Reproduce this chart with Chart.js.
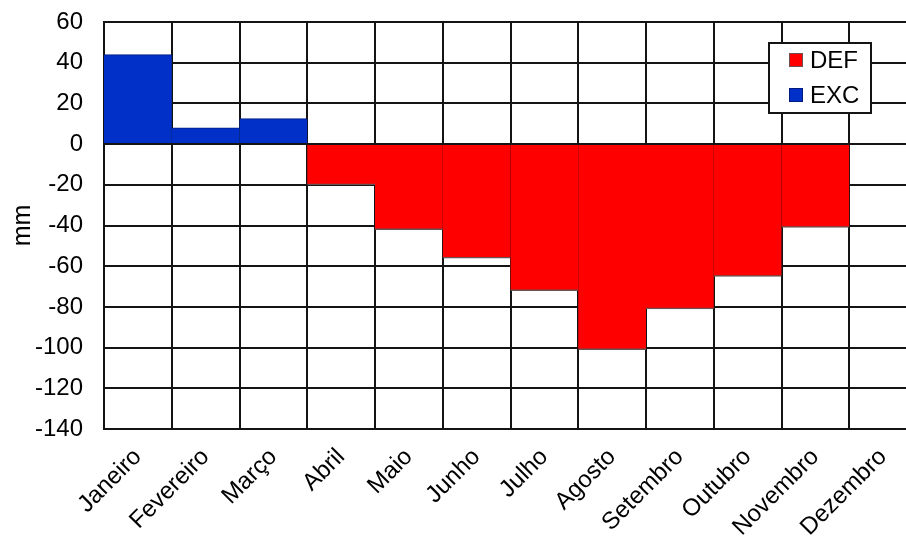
<!DOCTYPE html>
<html>
<head>
<meta charset="utf-8">
<script src="https://cdn.jsdelivr.net/npm/chart.js@4"></script>
<style>
  html, body { margin: 0; padding: 0; background: #fff; overflow: hidden; }
  #wrap { position: relative; width: 940px; height: 544px; }
</style>
</head>
<body>
<div id="wrap"><canvas id="balanco"></canvas></div>
<script>
// Balanço hídrico mensal: excedente (EXC) e deficiência (DEF), em mm
const meses = ['Janeiro', 'Fevereiro', 'Março', 'Abril', 'Maio', 'Junho',
               'Julho', 'Agosto', 'Setembro', 'Outubro', 'Novembro', 'Dezembro'];
const excedente = [44, 8, 12.5, null, null, null, null, null, null, null, null, null];
const deficiencia = [null, null, null, -20, -42, -56, -72, -101, -81, -65, -41, null];
const eixoY = { min: -140, max: 60, passo: 20 };

const FONTE = '"Liberation Sans", Arial, sans-serif';
const COR_DEF = '#ff0000';
const COR_EXC = '#0030c8';
const COR_GRADE = '#141414';

// linha do zero por cima das áreas
const linhaZero = {
  id: 'linhaZero',
  afterDatasetsDraw(chart) {
    const { ctx, chartArea, scales } = chart;
    const y0 = scales.y.getPixelForValue(0);
    ctx.save();
    ctx.strokeStyle = COR_GRADE;
    ctx.lineWidth = 2;
    ctx.beginPath();
    ctx.moveTo(chartArea.left, y0);
    ctx.lineTo(chartArea.right, y0);
    ctx.stroke();
    ctx.restore();
  }
};

// legenda em caixa dentro da área do gráfico
const legendaCaixa = {
  id: 'legendaCaixa',
  afterDraw(chart) {
    const { ctx, chartArea } = chart;
    const itens = [chart.data.datasets[1], chart.data.datasets[0]];
    const w = 102, h = 70;
    const x = chartArea.right - 46 - w;
    const y = chartArea.top + 21;
    ctx.save();
    ctx.fillStyle = '#fff';
    ctx.fillRect(x, y, w, h);
    ctx.strokeStyle = COR_GRADE;
    ctx.lineWidth = 2;
    ctx.strokeRect(x, y, w, h);
    ctx.font = '24px ' + FONTE;
    ctx.textBaseline = 'middle';
    itens.forEach((ds, i) => {
      const cy = y + 17 + i * 35;
      ctx.fillStyle = ds.backgroundColor;
      ctx.fillRect(x + 20, cy - 7, 14, 14);
      ctx.strokeStyle = ds.borderColor;
      ctx.lineWidth = 1;
      ctx.strokeRect(x + 20.5, cy - 6.5, 13, 13);
      ctx.fillStyle = '#000';
      ctx.fillText(ds.label, x + 41, cy + 1);
    });
    ctx.restore();
  }
};

new Chart(document.getElementById('balanco'), {
  type: 'bar',
  data: {
    labels: meses,
    datasets: [
      {
        label: 'EXC',
        data: excedente,
        backgroundColor: COR_EXC,
        borderColor: '#001a80',
        borderWidth: { top: 1, bottom: 0, left: 0, right: 0 },
        borderSkipped: false
      },
      {
        label: 'DEF',
        data: deficiencia,
        backgroundColor: COR_DEF,
        borderColor: '#6a5050',
        borderWidth: { top: 0, bottom: 1.5, left: 0, right: 0 },
        borderSkipped: false
      }
    ]
  },
  options: {
    responsive: true,
    maintainAspectRatio: false,
    animation: false,
    layout: { padding: { top: 22, right: 23, left: 0, bottom: 0 } },
    datasets: { bar: { categoryPercentage: 1, barPercentage: 1 } },
    plugins: { legend: { display: false }, tooltip: { enabled: false } },
    scales: {
      x: {
        stacked: true,
        grid: { color: COR_GRADE, lineWidth: 2, drawTicks: false, tickLength: 0 },
        border: { color: COR_GRADE, width: 2 },
        ticks: {
          color: '#000',
          font: { family: FONTE, size: 24 },
          maxRotation: 45, minRotation: 45,
          padding: 14,
          autoSkip: false
        },
        afterFit(scale) { scale.height = 115; scale.paddingTop = 0; scale.paddingBottom = 0; }
      },
      y: {
        stacked: true,
        min: eixoY.min,
        max: eixoY.max,
        grid: { color: COR_GRADE, lineWidth: 2, drawTicks: false, tickLength: 0 },
        border: { color: COR_GRADE, width: 2 },
        ticks: {
          stepSize: eixoY.passo,
          color: '#000',
          font: { family: FONTE, size: 24 },
          padding: 21
        },
        title: {
          display: true,
          text: 'mm',
          color: '#000',
          font: { family: FONTE, size: 25 },
          padding: { top: 8, bottom: 0 }
        },
        afterFit(scale) { scale.width = 104; scale.paddingTop = 0; scale.paddingBottom = 0; }
      }
    }
  },
  plugins: [linhaZero, legendaCaixa]
});
</script>
</body>
</html>
